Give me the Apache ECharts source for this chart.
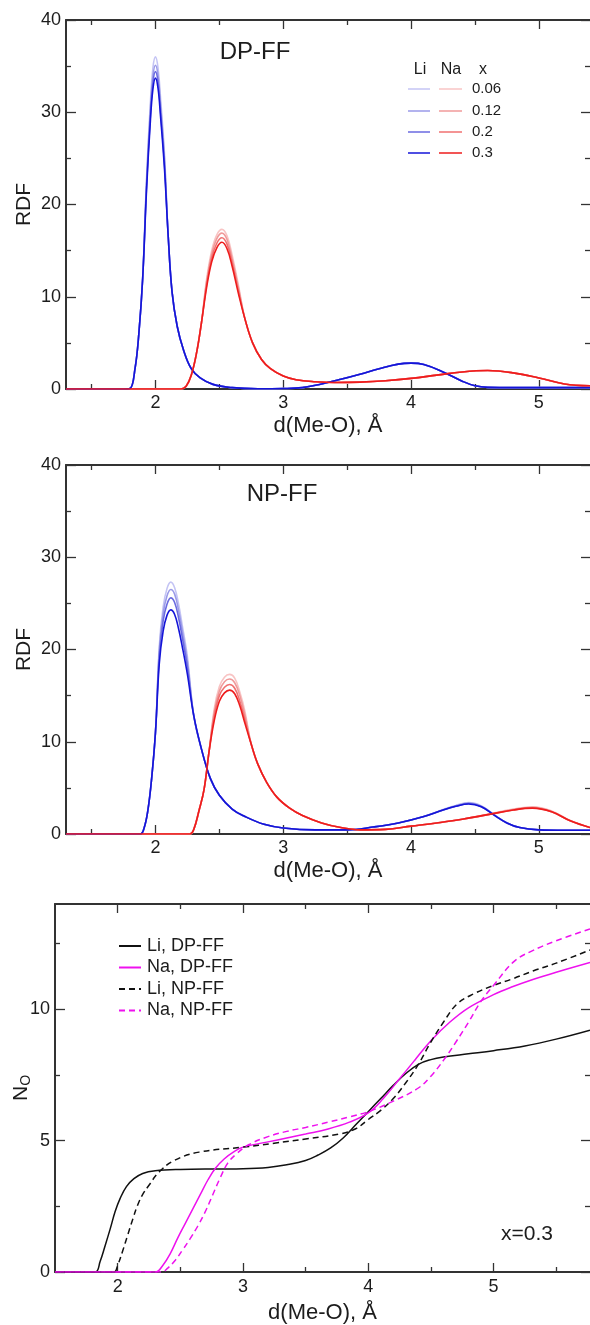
<!DOCTYPE html>
<html>
<head>
<meta charset="utf-8">
<script src="https://cdn.jsdelivr.net/npm/echarts@6/dist/echarts.min.js"></script>
<style>
  html, body { margin: 0; padding: 0; background: #fff; }
  #chart { width: 590px; height: 1325px; }
</style>
</head>
<body>
<div id="chart"></div>
<script>
// ---- concentrations shown in the RDF panels ----
const fractions = ['0.06', '0.12', '0.2', '0.3'];
const liColors = ['#c4c4f4', '#9a9ae8', '#6a6ae0', '#1414d8'];
const naColors = ['#f8c4c4', '#f09a9a', '#f07070', '#ee1c1c'];

// ---- RDF, DP-FF: Li-O ----
const rLiDP = [1.3, 1.75, 1.8, 1.84, 1.87, 1.9, 1.93, 1.96, 1.98, 2.0, 2.02, 2.04, 2.07, 2.1, 2.13, 2.17, 2.22, 2.28, 2.35, 2.45, 2.6, 2.8, 3.0, 3.15, 3.3, 3.45, 3.6, 3.75, 3.9, 4.0, 4.1, 4.25, 4.4, 4.5, 4.6, 4.8, 5.1, 5.4];
const gLiDP_006 = [0, 0, 0.05, 2.2, 6.0, 12.0, 22.8, 31.0, 34.8, 36.0, 34.8, 31.5, 25.6, 16.5, 10.5, 6.8, 4.2, 2.2, 1.2, 0.5, 0.15, 0.03, 0.05, 0.15, 0.55, 1.05, 1.6, 2.2, 2.7, 2.8, 2.65, 1.85, 0.85, 0.35, 0.18, 0.15, 0.15, 0.15];
const gLiDP_012 = [0, 0, 0.05, 2.2, 6.0, 12.0, 22.3, 30.2, 33.9, 35.1, 34.0, 30.7, 25.0, 16.5, 10.5, 6.8, 4.2, 2.2, 1.2, 0.5, 0.15, 0.03, 0.05, 0.15, 0.55, 1.05, 1.6, 2.2, 2.7, 2.8, 2.65, 1.85, 0.85, 0.35, 0.18, 0.15, 0.15, 0.15];
const gLiDP_02  = [0, 0, 0.05, 2.2, 6.0, 12.0, 21.9, 29.6, 33.2, 34.4, 33.3, 30.1, 24.5, 16.5, 10.5, 6.8, 4.2, 2.2, 1.2, 0.5, 0.15, 0.03, 0.05, 0.15, 0.55, 1.05, 1.6, 2.2, 2.7, 2.8, 2.65, 1.85, 0.85, 0.35, 0.18, 0.15, 0.15, 0.15];
const gLiDP_03  = [0, 0, 0.05, 2.2, 6.0, 12.0, 21.5, 29.0, 32.5, 33.7, 32.6, 29.5, 24.0, 16.5, 10.5, 6.8, 4.2, 2.2, 1.2, 0.5, 0.15, 0.03, 0.05, 0.15, 0.55, 1.05, 1.6, 2.2, 2.7, 2.8, 2.65, 1.85, 0.85, 0.35, 0.18, 0.15, 0.15, 0.15];

// ---- RDF, DP-FF: Na-O ----
const rNaDP = [1.3, 2.2, 2.24, 2.28, 2.32, 2.36, 2.4, 2.44, 2.48, 2.52, 2.56, 2.6, 2.65, 2.7, 2.76, 2.83, 2.9, 3.0, 3.1, 3.25, 3.4, 3.6, 3.8, 4.0, 4.2, 4.4, 4.6, 4.8, 5.0, 5.2, 5.4];
const gNaDP_006 = [0, 0, 0.3, 1.5, 3.8, 7.2, 11.9, 15.0, 16.7, 17.3, 16.6, 14.5, 11.2, 7.6, 5.0, 3.2, 2.2, 1.4, 1.0, 0.78, 0.7, 0.75, 0.9, 1.15, 1.5, 1.85, 2.0, 1.75, 1.2, 0.55, 0.35];
const gNaDP_012 = [0, 0, 0.3, 1.5, 3.8, 7.2, 11.6, 14.6, 16.3, 16.9, 16.2, 14.1, 10.9, 7.6, 5.0, 3.2, 2.2, 1.4, 1.0, 0.78, 0.7, 0.75, 0.9, 1.15, 1.5, 1.85, 2.0, 1.75, 1.2, 0.55, 0.35];
const gNaDP_02  = [0, 0, 0.3, 1.5, 3.8, 7.2, 11.3, 14.2, 15.8, 16.4, 15.7, 13.7, 10.6, 7.6, 5.0, 3.2, 2.2, 1.4, 1.0, 0.78, 0.7, 0.75, 0.9, 1.15, 1.5, 1.85, 2.0, 1.75, 1.2, 0.55, 0.35];
const gNaDP_03  = [0, 0, 0.3, 1.5, 3.8, 7.2, 11.0, 13.8, 15.3, 15.9, 15.2, 13.3, 10.3, 7.6, 5.0, 3.2, 2.2, 1.4, 1.0, 0.78, 0.7, 0.75, 0.9, 1.15, 1.5, 1.85, 2.0, 1.75, 1.2, 0.55, 0.35];

// ---- RDF, NP-FF: Li-O ----
const rLiNP = [1.3, 1.88, 1.91, 1.94, 1.97, 2.0, 2.03, 2.06, 2.09, 2.12, 2.15, 2.18, 2.21, 2.25, 2.3, 2.36, 2.43, 2.5, 2.6, 2.7, 2.85, 3.0, 3.25, 3.5, 3.7, 3.9, 4.1, 4.25, 4.35, 4.45, 4.55, 4.65, 4.75, 4.85, 5.0, 5.2, 5.4];
const gLiNP_006 = [0, 0, 0.6, 2.5, 6.0, 11.0, 20.4, 24.6, 26.6, 27.3, 26.7, 25.0, 22.6, 19.2, 12.8, 9.2, 6.0, 4.2, 2.7, 1.9, 1.05, 0.65, 0.45, 0.45, 0.75, 1.2, 1.9, 2.65, 3.1, 3.4, 3.05, 2.1, 1.2, 0.7, 0.45, 0.4, 0.4];
const gLiNP_012 = [0, 0, 0.6, 2.5, 6.0, 11.0, 19.9, 23.9, 25.8, 26.5, 26.0, 24.3, 22.0, 18.7, 12.8, 9.2, 6.0, 4.2, 2.7, 1.9, 1.05, 0.65, 0.45, 0.45, 0.75, 1.2, 1.9, 2.6, 3.05, 3.35, 3.0, 2.1, 1.2, 0.7, 0.45, 0.4, 0.4];
const gLiNP_02  = [0, 0, 0.6, 2.5, 6.0, 11.0, 19.3, 23.1, 24.9, 25.6, 25.1, 23.5, 21.3, 18.1, 12.8, 9.2, 6.0, 4.2, 2.7, 1.9, 1.05, 0.65, 0.45, 0.45, 0.75, 1.2, 1.9, 2.6, 3.0, 3.3, 2.95, 2.05, 1.2, 0.7, 0.45, 0.4, 0.4];
const gLiNP_03  = [0, 0, 0.6, 2.5, 6.0, 11.0, 18.5, 22.0, 23.7, 24.3, 23.8, 22.3, 20.3, 17.3, 12.8, 9.2, 6.0, 4.2, 2.7, 1.9, 1.05, 0.65, 0.45, 0.45, 0.75, 1.2, 1.9, 2.6, 3.0, 3.25, 2.95, 2.05, 1.2, 0.7, 0.45, 0.4, 0.4];

// ---- RDF, NP-FF: Na-O ----
const rNaNP = [1.3, 2.27, 2.3, 2.34, 2.38, 2.42, 2.46, 2.5, 2.54, 2.58, 2.62, 2.66, 2.7, 2.75, 2.8, 2.87, 2.95, 3.05, 3.15, 3.3, 3.45, 3.6, 3.8, 4.0, 4.2, 4.4, 4.6, 4.8, 4.95, 5.1, 5.25, 5.4];
const gNaNP_006 = [0, 0, 0.5, 2.5, 4.8, 9.0, 13.6, 16.0, 17.0, 17.3, 16.9, 15.4, 13.3, 9.7, 7.6, 5.6, 4.0, 2.8, 2.0, 1.2, 0.7, 0.45, 0.5, 0.85, 1.2, 1.6, 2.15, 2.7, 2.95, 2.5, 1.45, 0.7];
const gNaNP_012 = [0, 0, 0.5, 2.5, 4.8, 9.0, 13.2, 15.5, 16.5, 16.8, 16.4, 15.0, 12.9, 9.7, 7.6, 5.6, 4.0, 2.8, 2.0, 1.2, 0.7, 0.45, 0.5, 0.85, 1.2, 1.6, 2.1, 2.65, 2.9, 2.45, 1.4, 0.7];
const gNaNP_02  = [0, 0, 0.5, 2.5, 4.8, 9.0, 12.8, 15.0, 15.9, 16.2, 15.8, 14.4, 12.4, 9.7, 7.6, 5.6, 4.0, 2.8, 2.0, 1.2, 0.7, 0.45, 0.5, 0.85, 1.2, 1.6, 2.1, 2.6, 2.85, 2.4, 1.4, 0.7];
const gNaNP_03  = [0, 0, 0.5, 2.5, 4.8, 9.0, 12.3, 14.4, 15.3, 15.6, 15.2, 13.9, 12.0, 9.7, 7.6, 5.6, 4.0, 2.8, 2.0, 1.2, 0.7, 0.45, 0.5, 0.85, 1.2, 1.6, 2.1, 2.6, 2.8, 2.4, 1.4, 0.7];

// ---- running coordination number N_O at x = 0.3 ----
const dLiDP = [1.5, 1.82, 1.86, 1.9, 1.94, 1.98, 2.02, 2.07, 2.13, 2.2, 2.3, 2.5, 2.8, 3.0, 3.2, 3.35, 3.5, 3.6, 3.7, 3.8, 3.9, 4.0, 4.1, 4.2, 4.3, 4.4, 4.5, 4.6, 4.8, 5.0, 5.25, 5.5, 5.77];
const nLiDP = [0, 0, 0.4, 1.0, 1.63, 2.3, 2.8, 3.25, 3.55, 3.75, 3.85, 3.9, 3.92, 3.93, 3.98, 4.08, 4.24, 4.45, 4.72, 5.1, 5.6, 6.1, 6.6, 7.1, 7.55, 7.9, 8.08, 8.18, 8.3, 8.42, 8.6, 8.86, 9.2];
const dNaDP = [1.5, 2.3, 2.36, 2.42, 2.48, 2.54, 2.6, 2.66, 2.72, 2.78, 2.85, 2.92, 3.0, 3.2, 3.35, 3.5, 3.68, 3.85, 4.0, 4.12, 4.25, 4.37, 4.5, 4.65, 4.8, 5.0, 5.15, 5.32, 5.5, 5.77];
const nNaDP = [0, 0, 0.25, 0.7, 1.3, 1.85, 2.4, 2.95, 3.5, 3.95, 4.3, 4.55, 4.75, 4.95, 5.1, 5.25, 5.44, 5.7, 6.05, 6.6, 7.35, 8.05, 8.8, 9.5, 10.05, 10.55, 10.85, 11.14, 11.4, 11.78];
const dLiNP = [1.5, 1.97, 2.0, 2.04, 2.08, 2.12, 2.16, 2.2, 2.25, 2.33, 2.45, 2.65, 3.0, 3.25, 3.5, 3.77, 3.9, 4.0, 4.1, 4.2, 4.3, 4.4, 4.5, 4.6, 4.71, 4.85, 5.0, 5.15, 5.32, 5.5, 5.77];
const nLiNP = [0, 0, 0.25, 0.8, 1.4, 2.0, 2.55, 2.95, 3.3, 3.8, 4.24, 4.56, 4.75, 4.9, 5.06, 5.25, 5.45, 5.8, 6.15, 6.6, 7.2, 7.9, 8.75, 9.5, 10.2, 10.6, 10.9, 11.15, 11.46, 11.75, 12.25];
const dNaNP = [1.5, 2.35, 2.4, 2.46, 2.52, 2.58, 2.64, 2.7, 2.76, 2.82, 2.88, 2.95, 3.05, 3.2, 3.35, 3.5, 3.68, 3.85, 4.0, 4.2, 4.4, 4.5, 4.6, 4.7, 4.8, 4.9, 5.0, 5.16, 5.3, 5.5, 5.77];
const nNaNP = [0, 0, 0.15, 0.45, 0.85, 1.28, 1.75, 2.3, 2.95, 3.6, 4.15, 4.5, 4.85, 5.15, 5.35, 5.5, 5.7, 5.9, 6.1, 6.5, 7.0, 7.45, 8.05, 8.75, 9.5, 10.3, 10.9, 11.8, 12.2, 12.6, 13.05];

// ---- tick positions ----
const rdfMajorX = [2, 3, 4, 5];
const rdfMinorX = [1.5, 2.5, 3.5, 4.5];
const rdfMajorY = [0, 10, 20, 30, 40];
const rdfMinorY = [5, 15, 25, 35];
const cnMajorX = [2, 3, 4, 5];
const cnMinorX = [2.5, 3.5, 4.5, 5.5];
const cnMajorY = [0, 5, 10];
const cnMinorY = [2.5, 7.5, 12.5];

const FONT = '"Liberation Sans", Arial, Helvetica, sans-serif';
const INK = '#1c1c1c';
const AXIS = '#333333';

const grids = [
  { left: 66, top: 20,  width: 524, height: 369 },
  { left: 66, top: 465, width: 524, height: 369 },
  { left: 55, top: 904, width: 535, height: 369 }
];

const xAxes = [];
const yAxes = [];

// four x axes and four y axes per grid: labelled major, minor, and the
// mirrored ticks on the top / right edges (all ticks point inwards)
function frame(gi, xr, yr, xMaj, xMin, yMaj, yMin, xName, yName, xGap, yGap) {
  const tick = (vals, len) => ({ show: true, inside: true, length: len, customValues: vals,
    lineStyle: { color: AXIS, width: 1.3 } });
  const line = (show) => ({ show, onZero: false, lineStyle: { color: AXIS, width: 2 } });
  const noLabel = { show: false };
  const base = { type: 'value', gridIndex: gi, min: xr[0], max: xr[1], splitLine: { show: false }, silent: true };
  xAxes.push(Object.assign({}, base, {
    position: 'bottom', axisLine: line(true), axisTick: tick(xMaj, 9),
    axisLabel: { customValues: xMaj, margin: gi === 2 ? 6 : 5, fontSize: 18, fontFamily: FONT, color: INK },
    name: xName, nameLocation: 'middle', nameGap: xGap, nameMoveOverlap: false,
    nameTextStyle: { fontSize: 22, fontFamily: FONT, color: INK }
  }));
  xAxes.push(Object.assign({}, base, { position: 'bottom', axisLine: line(false), axisTick: tick(xMin, 5), axisLabel: noLabel }));
  xAxes.push(Object.assign({}, base, { position: 'top', axisLine: line(true), axisTick: tick(xMaj, 9), axisLabel: noLabel }));
  xAxes.push(Object.assign({}, base, { position: 'top', axisLine: line(false), axisTick: tick(xMin, 5), axisLabel: noLabel }));

  const ybase = { type: 'value', gridIndex: gi, min: yr[0], max: yr[1], splitLine: { show: false }, silent: true };
  yAxes.push(Object.assign({}, ybase, {
    position: 'left', axisLine: line(true), axisTick: tick(yMaj, 10),
    axisLabel: { customValues: yMaj, margin: 5, fontSize: 18, fontFamily: FONT, color: INK },
    name: yName, nameLocation: 'middle', nameGap: yGap, nameMoveOverlap: false,
    nameTextStyle: { fontSize: 21, fontFamily: FONT, color: INK,
      rich: { n: { fontSize: 21, fontFamily: FONT, color: INK, lineHeight: 24 },
              s: { fontSize: 14, fontFamily: FONT, color: INK, lineHeight: 14, verticalAlign: 'bottom' } } }
  }));
  yAxes.push(Object.assign({}, ybase, { position: 'left', axisLine: line(false), axisTick: tick(yMin, 5), axisLabel: noLabel }));
  yAxes.push(Object.assign({}, ybase, { position: 'right', axisLine: line(false), axisTick: tick(yMaj, 9), axisLabel: noLabel }));
  yAxes.push(Object.assign({}, ybase, { position: 'right', axisLine: line(false), axisTick: tick(yMin, 5), axisLabel: noLabel }));
}

frame(0, [1.3, 5.4], [0, 40], rdfMajorX, rdfMinorX, rdfMajorY, rdfMinorY, 'd(Me-O), Å', 'RDF', 26, 31);
frame(1, [1.3, 5.4], [0, 40], rdfMajorX, rdfMinorX, rdfMajorY, rdfMinorY, 'd(Me-O), Å', 'RDF', 26, 31);
frame(2, [1.5, 5.77], [0, 14], cnMajorX, cnMinorX, cnMajorY, cnMinorY, 'd(Me-O), Å', '{n|N}{s|O}', 30, 22);

function curve(name, xs, ys, gi, color, width, dash, z) {
  return {
    type: 'line', name, xAxisIndex: gi * 4, yAxisIndex: gi * 4,
    data: xs.map((x, i) => [x, ys[i]]),
    symbol: 'none', showSymbol: false, smooth: 0.4,
    lineStyle: { color, width, type: dash || 'solid' },
    itemStyle: { color }, animation: false, silent: true, z: z || 2
  };
}

const series = [];
const liDP = [gLiDP_006, gLiDP_012, gLiDP_02, gLiDP_03];
const naDP = [gNaDP_006, gNaDP_012, gNaDP_02, gNaDP_03];
const liNP = [gLiNP_006, gLiNP_012, gLiNP_02, gLiNP_03];
const naNP = [gNaNP_006, gNaNP_012, gNaNP_02, gNaNP_03];
fractions.forEach((f, k) => {
  series.push(curve('Li DP ' + f, rLiDP, liDP[k], 0, liColors[k], 1.6, null, 2 + k));
  series.push(curve('Na DP ' + f, rNaDP, naDP[k], 0, naColors[k], 1.6, null, 2 + k));
  series.push(curve('Li NP ' + f, rLiNP, liNP[k], 1, liColors[k], 1.6, null, 2 + k));
  series.push(curve('Na NP ' + f, rNaNP, naNP[k], 1, naColors[k], 1.6, null, 2 + k));
});
series.push(curve('Li, DP-FF', dLiDP, nLiDP, 2, '#111111', 1.5));
series.push(curve('Na, DP-FF', dNaDP, nNaDP, 2, '#ee11ee', 1.5));
series.push(curve('Li, NP-FF', dLiNP, nLiNP, 2, '#111111', 1.5, [6, 4]));
series.push(curve('Na, NP-FF', dNaNP, nNaNP, 2, '#ee11ee', 1.5, [6, 4]));

// legend table for the DP-FF panel: Li column, Na column, x value
const tableRows = [89, 111, 132, 153];
const graphics = [];
const txt = (text, x, y, size, align) => ({
  type: 'text', x, y, silent: true,
  style: { text, fontSize: size, fontFamily: FONT, fill: INK,
    align: align || 'center', verticalAlign: 'middle',
    textAlign: align || 'center', textVerticalAlign: 'middle' }
});
graphics.push(txt('DP-FF', 255, 52, 24));
graphics.push(txt('NP-FF', 282, 494, 24));
graphics.push(txt('Li', 420, 70, 16));
graphics.push(txt('Na', 451, 70, 16));
graphics.push(txt('x', 483, 70, 16));
fractions.forEach((f, k) => {
  const y = tableRows[k];
  graphics.push({ type: 'line', silent: true, shape: { x1: 408, y1: y, x2: 430, y2: y },
    style: { stroke: liColors[k], lineWidth: 1.5 } });
  graphics.push({ type: 'line', silent: true, shape: { x1: 439, y1: y, x2: 462, y2: y },
    style: { stroke: naColors[k], lineWidth: 1.5 } });
  graphics.push(txt(f, 472, y, 15, 'left'));
});
graphics.push(txt('x=0.3', 527, 1234, 21));

const chart = echarts.init(document.getElementById('chart'), null, { renderer: 'canvas' });
chart.setOption({
  backgroundColor: '#ffffff',
  animation: false,
  textStyle: { fontFamily: FONT },
  grid: grids,
  xAxis: xAxes,
  yAxis: yAxes,
  legend: {
    data: ['Li, DP-FF', 'Na, DP-FF', 'Li, NP-FF', 'Na, NP-FF'],
    orient: 'vertical', left: 113, top: 932,
    itemWidth: 22, itemHeight: 14, itemGap: 3.5,
    selectedMode: false,
    itemStyle: { opacity: 0 },
    textStyle: { fontSize: 18, fontFamily: FONT, color: INK, padding: [0, 0, 0, 1] }
  },
  graphic: graphics,
  series
});
</script>
</body>
</html>
